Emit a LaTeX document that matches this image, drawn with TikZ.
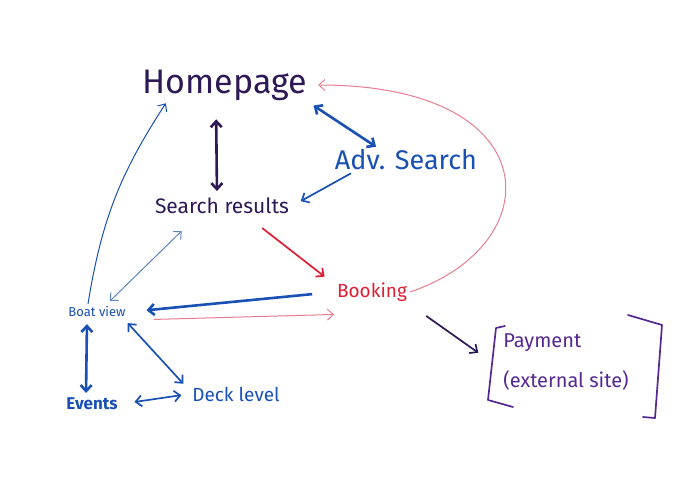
\documentclass[tikz,border=0pt]{standalone}
\usepackage{fontspec}
\setmainfont{Fira Sans}
\usetikzlibrary{arrows.meta}
\definecolor{inkpurple}{RGB}{45,25,85}
\definecolor{inkviolet}{RGB}{85,40,145}
\definecolor{inkblue}{RGB}{25,80,180}
\definecolor{inksteel}{RGB}{95,135,195}
\definecolor{inkred}{RGB}{220,30,50}
\definecolor{inkpink}{RGB}{232,125,145}

\begin{document}
\begin{tikzpicture}[x=1pt, y=-1pt,
    page/.style={inner sep=1pt, outer sep=2pt},
    tip/.style={-{Straight Barb[length=6pt, width=11pt]}},
    both/.style={{Straight Barb[length=6pt, width=11pt]}-{Straight Barb[length=6pt, width=11pt]}},
    heavy/.style={line width=2.6pt},
    medium/.style={line width=1.7pt},
    light/.style={line width=1pt}]
    \useasboundingbox (0,0) rectangle (683,484);
    \node[page, text=inkpurple, font=\fontsize{34}{40}\selectfont] (home) at (225,85) {Homepage};
    \node[page, text=inkblue, font=\fontsize{27}{32}\selectfont] (adv) at (406,160) {Adv. Search};
    \node[page, text=inkpurple, font=\fontsize{21}{24}\selectfont] (search) at (222,206) {Search results};
    \node[page, text=inkred, font=\fontsize{19}{22}\selectfont] (booking) at (372,292) {Booking};
    \node[page, text=inkblue, font=\fontsize{13}{16}\selectfont] (boat) at (97,312) {Boat view};
    \node[page, text=inkblue, font=\bfseries\fontsize{17}{20}\selectfont] (events) at (92,404) {Events};
    \node[page, text=inkblue, font=\fontsize{19}{22}\selectfont] (deck) at (236,394) {Deck level};
    \node[page, text=inkviolet, align=left, inner xsep=10pt, font=\fontsize{20}{40}\selectfont] (pay) at (566,362) {Payment\\(external site)};

    \draw[both, heavy, inkpurple, shorten <=16pt, shorten >=4pt] ([xshift=-9pt]home.south) -- ([xshift=-5pt]search.north);
    \draw[both, heavy, inkblue, shorten <=4pt] (home.south east) -- ([xshift=-30pt]adv.north);
    \draw[tip, medium, inkblue, shorten >=10pt] ([xshift=-55pt]adv.south) -- (search.east);
    \draw[tip, medium, inkred, shorten <=18pt, shorten >=12pt] ([xshift=26pt]search.south) -- ([yshift=8pt]booking.west);
    \draw[tip, light, inkpink, shorten >=8pt] (booking.east) .. controls (550,245) and (550,85) .. (home.east);
    \draw[tip, heavy, inkblue, shorten >=18pt, shorten <=22pt] (booking.west) -- (boat.east);
    \draw[tip, light, inkpink, shorten <=25pt] (boat.south east) -- ([yshift=-10pt]booking.south west);
    \draw[tip, light, inkblue] ([xshift=-9pt]boat.north) to[bend left=12] ([xshift=26pt]home.south west);
    \draw[both, light, inksteel, shorten <=20pt, shorten >=4pt] ([xshift=-26pt]search.south) -- ([xshift=10pt]boat.north);
    \draw[both, heavy, inkblue, shorten <=4pt, shorten >=2pt] ([xshift=-10pt]boat.south) -- ([xshift=-6pt]events.north);
    \draw[both, medium, inkblue, shorten <=4pt] ([xshift=28pt]boat.south) -- ([xshift=-6pt]deck.north west);
    \draw[both, medium, inkblue, shorten <=14pt, shorten >=8pt] (events.east) -- (deck.west);
    \draw[tip, medium, inkpurple, shorten <=20pt, shorten >=16pt] (booking.south east) -- (pay.west);

    \draw[medium, inkviolet, line cap=round, line join=round] (505,326) -- (496,328) -- (488,400) -- (513,407);
    \draw[medium, inkviolet, line cap=round, line join=round] (628,315) -- (662,325) -- (655,418) -- (643,417);
\end{tikzpicture}
\end{document}
